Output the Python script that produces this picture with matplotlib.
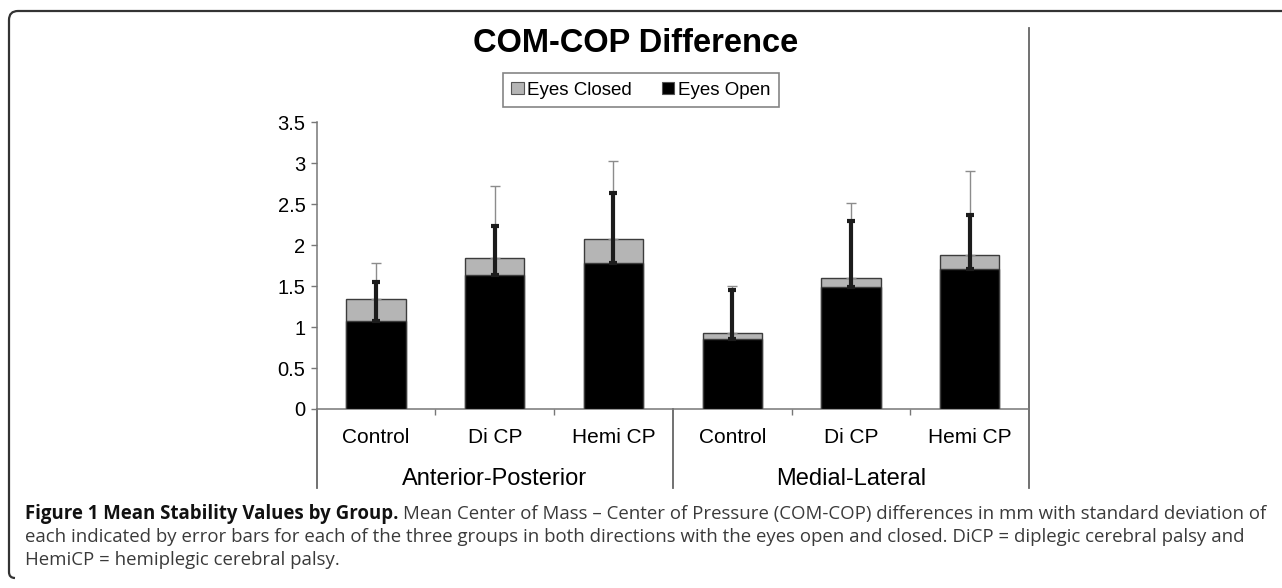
import matplotlib
matplotlib.use("Agg")
import matplotlib.pyplot as plt
import matplotlib.transforms as mtransforms
from matplotlib.patches import Patch, PathPatch
from matplotlib.path import Path

# ---------------- data ----------------
categories = ["Control", "Di CP", "Hemi CP", "Control", "Di CP", "Hemi CP"]
groups = ["Anterior-Posterior", "Medial-Lateral"]
eyes_closed = [1.34, 1.84, 2.08, 0.93, 1.60, 1.88]
eyes_closed_sd = [0.44, 0.88, 0.95, 0.57, 0.92, 1.02]
eyes_open = [1.07, 1.63, 1.78, 0.85, 1.49, 1.71]
eyes_open_sd = [0.48, 0.61, 0.86, 0.60, 0.80, 0.66]
yticks = [0, 0.5, 1, 1.5, 2, 2.5, 3, 3.5]
ytick_labels = ["0", "0.5", "1", "1.5", "2", "2.5", "3", "3.5"]
title = "COM-COP Difference"
caption_bold = "Figure 1 Mean Stability Values by Group."
caption_line1 = ("Mean Center of Mass \u2013 Center of Pressure (COM-COP) differences in mm "
                 "with standard deviation of")
caption_line2 = ("each indicated by error bars for each of the three groups in both directions "
                 "with the eyes open and closed. DiCP = diplegic cerebral palsy and")
caption_line3 = "HemiCP = hemiplegic cerebral palsy."

# ---------------- figure ----------------
W, H, DPI = 1282, 588, 100
plt.rcParams["font.family"] = ["Liberation Sans", "DejaVu Sans"]
fig = plt.figure(figsize=(W / DPI, H / DPI), dpi=DPI, facecolor="white")

# background pixel-space axes for the figure frame
bg = fig.add_axes([0, 0, 1, 1], zorder=-5)
bg.set_xlim(0, W)
bg.set_ylim(H, 0)
bg.axis("off")
r = 9
verts = [(15, 578), (9, 578), (9, 572), (9, 11 + r), (9, 11), (9 + r, 11), (W, 11)]
codes = [Path.MOVETO, Path.CURVE3, Path.CURVE3, Path.LINETO, Path.CURVE3, Path.CURVE3, Path.LINETO]
bg.add_patch(PathPatch(Path(verts, codes), facecolor="none", edgecolor="#333333", lw=1.6))

# plot axes
L, R, T, B = 316.7, 1029.0, 122.3, 409.0
ax = fig.add_axes([L / W, 1 - B / H, (R - L) / W, (B - T) / H])
x = list(range(len(categories)))
ax.set_xlim(-0.5, len(categories) - 0.5)
ax.set_ylim(0, 3.5)

gray = "#b5b5b5"
edge = "#3c3c3c"
ax.bar(x, eyes_closed, width=0.5, color=gray, edgecolor=edge, linewidth=1.0,
       label="Eyes Closed", zorder=2)
ax.errorbar(x, eyes_closed, yerr=[[0] * len(x), eyes_closed_sd], fmt="none",
            ecolor="#8c8c8c", elinewidth=1.0, capsize=3.5, capthick=1.0, zorder=3)
ax.bar(x, eyes_open, width=0.5, color="black", edgecolor=edge, linewidth=1.0,
       label="Eyes Open", zorder=4)
ax.errorbar(x, eyes_open, yerr=[[0] * len(x), eyes_open_sd], fmt="none",
            ecolor="#1c1c1c", elinewidth=3.0, capsize=2.6, capthick=3.0, zorder=5)

for s in ["top", "right"]:
    ax.spines[s].set_visible(False)
for s in ["left", "bottom"]:
    ax.spines[s].set_color("#777777")
    ax.spines[s].set_linewidth(1.1)

ax.set_yticks(yticks)
ax.set_yticklabels(ytick_labels)
ax.tick_params(axis="y", direction="out", length=4.5, width=1.0, color="#777777",
               labelsize=14.5, pad=3.5)
ax.set_xticks(x)
ax.set_xticklabels(categories)
ax.tick_params(axis="x", which="major", length=0, labelsize=15, pad=14)
ax.set_xticks([0.5, 1.5, 3.5, 4.5], minor=True)
ax.tick_params(axis="x", which="minor", direction="out", length=4.5, width=1.0,
               color="#777777")

# separators / chart-area border
trans = mtransforms.blended_transform_factory(ax.transData, ax.transAxes)
ybot = -(488 - B) / (B - T)
ytop_right = (B - 28) / (B - T)
for xs, ytop in [(-0.5, 0), (2.5, 0), (5.5, ytop_right)]:
    ax.plot([xs, xs], [ybot, ytop], transform=trans, color="#666666", lw=1.3,
            clip_on=False, zorder=1)

ygroup = -(479 - B) / (B - T)
for gi, g in enumerate(groups):
    ax.text(1 + 3 * gi, ygroup, g, transform=trans, ha="center", va="center",
            fontsize=17, color="black")

# title & legend
fig.text(636 / W, 1 - 43 / H, title, ha="center", va="center", fontsize=23.5,
         fontweight="bold")
handles = [Patch(facecolor=gray, edgecolor="#555555", lw=0.8, label="Eyes Closed"),
           Patch(facecolor="black", edgecolor="#555555", lw=0.8, label="Eyes Open")]
leg = fig.legend(handles=handles, loc="center", bbox_to_anchor=(641 / W, 1 - 90 / H),
                 ncol=2, fontsize=13.5, frameon=True, fancybox=False,
                 handlelength=0.65, handleheight=0.65, handletextpad=0.2,
                 columnspacing=1.6, borderpad=0.45, borderaxespad=0)
leg.get_frame().set_edgecolor("#666666")
leg.get_frame().set_linewidth(1.2)

# caption
cap_fam = ["Open Sans", "DejaVu Sans"]
fig.canvas.draw()
rend = fig.canvas.get_renderer()
x0 = 25
target = 1268 - x0


def place(size):
    tb = fig.text(x0 / W, 1 - 519 / H, caption_bold, fontsize=size, fontweight="bold",
                  family=cap_fam, color="#111111", va="baseline", ha="left")
    wb = tb.get_window_extent(rend).width
    sp = size * 0.3
    t1 = fig.text((x0 + wb + sp) / W, 1 - 519 / H, caption_line1, fontsize=size,
                  family=cap_fam, color="#3a3a3a", va="baseline", ha="left")
    w1 = t1.get_window_extent(rend).width
    return tb, t1, wb + sp + w1


tb, t1, tw = place(11)
tb.remove()
t1.remove()
size = 11 * target / tw
tb, t1, tw = place(size)
fig.text(x0 / W, 1 - 542 / H, caption_line2, fontsize=size, family=cap_fam,
         color="#3a3a3a", va="baseline", ha="left")
fig.text(x0 / W, 1 - 565 / H, caption_line3, fontsize=size, family=cap_fam,
         color="#3a3a3a", va="baseline", ha="left")

fig.savefig("out.png", dpi=DPI, facecolor="white")
